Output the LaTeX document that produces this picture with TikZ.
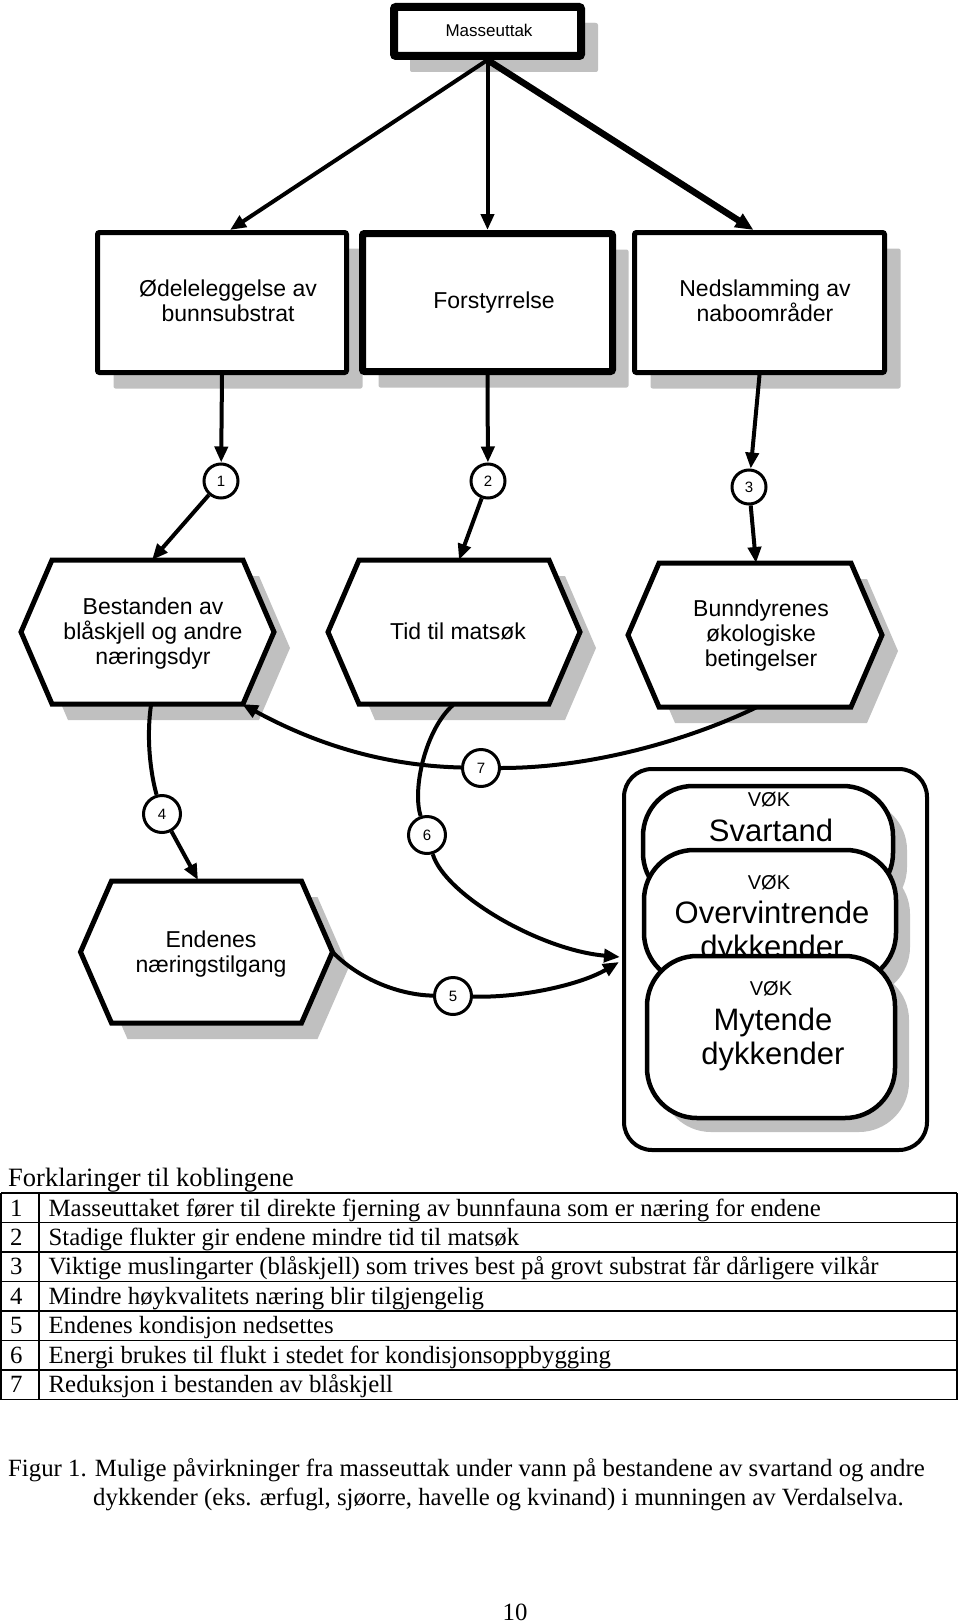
\documentclass[tikz,border=0pt]{standalone}
\usepackage{fontspec}
\setmainfont{Liberation Serif}
\newfontfamily\arialf{Liberation Sans}
\usetikzlibrary{arrows.meta,shadows}
\definecolor{shadowc}{RGB}{192,192,192}
\newcommand\hexpath[4]{%
  \draw[hexst] ({#1-#3},#2) -- ({#1-#3+31},{#2-#4}) -- ({#1+#3-31},{#2-#4}) -- ({#1+#3},#2)
    -- ({#1+#3-31},{#2+#4}) -- ({#1-#3+31},{#2+#4}) -- cycle;}
\begin{document}
\begin{tikzpicture}[x=1pt,y=-1pt,
  every node/.style={inner sep=0pt},
  shd/.style={drop shadow={shadow xshift=16pt,shadow yshift=-16pt,opacity=1,fill=shadowc}},
  sq/.style={draw, fill=white, line width=5pt, rounded corners=2pt, shd},
  hexst/.style={draw, fill=white, line width=5pt, line join=miter, shd},
  lbl/.style={font=\arialf\fontsize{23}{25}\selectfont, align=center},
  num/.style={draw, circle, fill=white, line width=3pt, minimum size=34pt, font=\arialf\fontsize{15}{15}\selectfont},
  numb/.style={num, minimum size=37pt},
  con/.style={line width=4pt, -{Triangle[length=16pt,width=13pt]}},
  plainln/.style={line width=4pt},
  oval/.style={draw, fill=white, line width=4.5pt, rounded corners=50pt,
    drop shadow={shadow xshift=14pt,shadow yshift=-14pt,opacity=1,fill=shadowc}},
  vokt/.style={font=\arialf\fontsize{20}{20}\selectfont},
  bigt/.style={font=\arialf\fontsize{31}{34}\selectfont, align=center},
  tabf/.style={font=\fontsize{24.8}{29}\selectfont},
  headf/.style={font=\fontsize{26.5}{30}\selectfont},
  tabl/.style={line width=1.3pt}
]
\useasboundingbox (0,0) rectangle (960,1624);

% ---- top box
\node[sq, line width=8pt, minimum width=187pt, minimum height=49pt,
  drop shadow={shadow xshift=17pt,shadow yshift=-16pt,opacity=1,fill=shadowc}] (mass) at (487.5,31.5) {};
\node[font=\arialf\fontsize{17}{17}\selectfont] (masst) at (489,30) {Masseuttak};

% ---- row 1 boxes
\node[sq, minimum width=249pt, minimum height=140pt] (b1) at (222,302.5) {};
\node[sq, line width=7pt, minimum width=250pt, minimum height=138pt] (b2) at (487.5,302.5) {};
\node[sq, minimum width=250pt, minimum height=140pt] (b3) at (759.5,302.5) {};
\node[lbl] (b1t) at (228,301) {Ødeleleggelse av\\bunnsubstrat};
\node[lbl] (b2t) at (494,303) {Forstyrrelse};
\node[lbl] (b3t) at (765,301) {Nedslamming av\\naboområder};

% ---- hexagons
\hexpath{147.5}{632}{126.5}{72}
\hexpath{454}{632}{126}{72}
\hexpath{755}{635}{127}{72}
\hexpath{206.5}{952}{126}{71}
\node[lbl] (h1t) at (153,634) {Bestanden av\\blåskjell og andre\\næringsdyr};
\node[lbl] (h2t) at (458,631) {Tid til matsøk};
\node[lbl] (h3t) at (761,636) {Bunndyrenes\\økologiske\\betingelser};
\node[lbl] (h4t) at (211,954) {Endenes\\næringstilgang};

\coordinate (h1top) at (152,560);
\coordinate (h2top) at (459,560);
\coordinate (h3top) at (756,563);
\coordinate (h1b) at (151,705);
\coordinate (h1br) at (242,704);
\coordinate (h2b) at (453,705);
\coordinate (h3b) at (757,707);
\coordinate (h4top) at (198,880);
\coordinate (h4r) at (332.5,952);
\coordinate (vin6) at (620,957);
\coordinate (vin5) at (619,962);

% ---- VØK container
\node[draw, line width=4pt, rounded corners=28pt, minimum width=303pt, minimum height=381pt] (vok) at (775.5,959.5) {};
\node[oval, minimum width=250pt, minimum height=117pt] (s1) at (768,844.5) {};
\node[vokt] (s1a) at (769,800) {VØK};
\node[bigt] (s1b) at (771,830) {Svartand};
\node[oval, minimum width=252pt, minimum height=133pt] (s2) at (770,916.5) {};
\node[vokt] (s2a) at (769,883) {VØK};
\node[bigt] (s2b) at (772,932) {Overvintrende\\dykkender};
\node[oval, minimum width=248pt, minimum height=162pt] (s3) at (771,1037) {};
\node[vokt] (s3a) at (771,989) {VØK};
\node[bigt] (s3b) at (773,1039) {Mytende\\dykkender};

% ---- top arrows
\draw[con] (mass.south) -- ([xshift=8pt]b1.north);
\draw[con] (mass.south) -- (b2.north);
\draw[line width=6.5pt, -{Triangle[length=18pt,width=15pt]}] (mass.south) -- ([xshift=-6pt]b3.north);

% ---- circles 1-3
\node[num] (n1) at (221,481) {1};
\node[num] (n2) at (488,481) {2};
\node[num] (n3) at (749,487) {3};
\draw[con] (b1.south) -- (n1);
\draw[con] (b2.south) -- (n2);
\draw[con] (b3.south) -- (n3);
\draw[con] (n1) -- (h1top);
\draw[con] (n2) -- (h2top);
\draw[con] (n3) -- (h3top);

% ---- circles 4-7
\node[numb] (n4) at (162,814) {4};
\node[numb] (n5) at (453,996) {5};
\node[numb] (n6) at (427,835) {6};
\node[numb] (n7) at (481,768) {7};

\draw[plainln] (h1b) .. controls (146,740) and (151,775) .. (n4);
\draw[con] (n4) -- (h4top);
\draw[plainln] (h3b) .. controls (700,735) and (600,768) .. (n7);
\draw[con] (n7) .. controls (400,766) and (330,752) .. (h1br);
\draw[plainln] (h2b) .. controls (425,730) and (412,790) .. (n6);
\draw[con] (n6) .. controls (445,895) and (540,950) .. (vin6);
\draw[plainln] (h4r) .. controls (360,980) and (400,995) .. (n5);
\draw[con] (n5) .. controls (520,998) and (580,985) .. (vin5);

% ---- table
\node[headf, anchor=base west] (fk) at (8,1186) {Forklaringer til koblingene};
\foreach \yy in {1193,1222.5,1252,1281.5,1311,1340.5,1370,1399.5}
  \draw[tabl] (1,\yy) -- (957,\yy);
\draw[tabl] (1,1193) -- (1,1399.5);
\draw[tabl] (39,1193) -- (39,1399.5);
\draw[tabl] (957,1193) -- (957,1399.5);
\node[tabf, anchor=base west] (r1n) at (10,1216) {1};
\node[tabf, anchor=base west] (r1) at (48.5,1216) {Masseuttaket fører til direkte fjerning av bunnfauna som er næring for endene};
\node[tabf, anchor=base west] (r2n) at (10,1245) {2};
\node[tabf, anchor=base west] (r2) at (48.5,1245) {Stadige flukter gir endene mindre tid til matsøk};
\node[tabf, anchor=base west] (r3n) at (10,1274.5) {3};
\node[tabf, anchor=base west] (r3) at (48.5,1274.5) {Viktige muslingarter (blåskjell) som trives best på grovt substrat får dårligere vilkår};
\node[tabf, anchor=base west] (r4n) at (10,1304) {4};
\node[tabf, anchor=base west] (r4) at (48.5,1304) {Mindre høykvalitets næring blir tilgjengelig};
\node[tabf, anchor=base west] (r5n) at (10,1333.5) {5};
\node[tabf, anchor=base west] (r5) at (48.5,1333.5) {Endenes kondisjon nedsettes};
\node[tabf, anchor=base west] (r6n) at (10,1363) {6};
\node[tabf, anchor=base west] (r6) at (48.5,1363) {Energi brukes til flukt i stedet for kondisjonsoppbygging};
\node[tabf, anchor=base west] (r7n) at (10,1392.5) {7};
\node[tabf, anchor=base west] (r7) at (48.5,1392.5) {Reduksjon i bestanden av blåskjell};

% ---- caption
\node[tabf, anchor=base west] (cap1) at (8,1476) {Figur 1. Mulige påvirkninger fra masseuttak under vann på bestandene av svartand og andre};
\node[tabf, anchor=base west] (cap2) at (93,1505) {dykkender (eks. ærfugl, sjøorre, havelle og kvinand) i munningen av Verdalselva.};
\node[tabf, anchor=base] (pg) at (515,1620) {10};
\end{tikzpicture}
\end{document}
